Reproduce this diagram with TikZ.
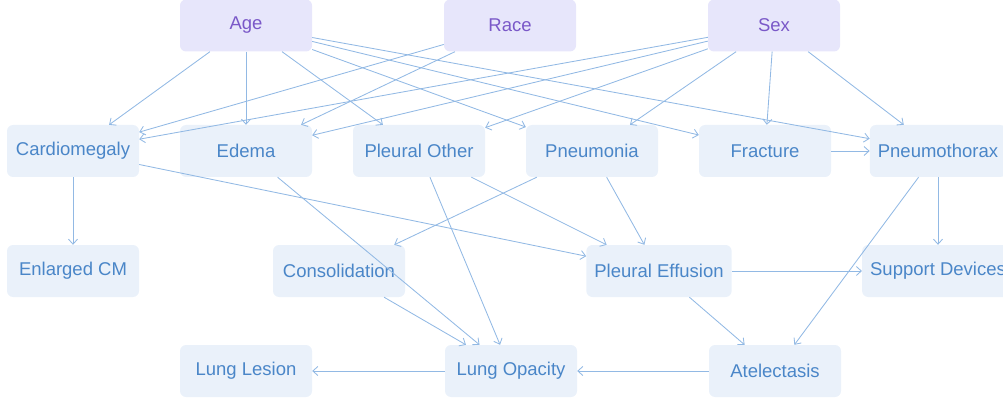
\documentclass[tikz,border=0pt]{standalone}
\usepackage{fontspec}
\setmainfont{Liberation Sans}
\usepackage{xcolor}
\usepackage{tikz}
\usetikzlibrary{arrows.meta}

\definecolor{demofill}{RGB}{231,230,251}
\definecolor{demotext}{RGB}{122,88,200}
\definecolor{findfill}{RGB}{234,241,250}
\definecolor{findtext}{RGB}{74,134,200}
\definecolor{linkcol}{RGB}{146,185,228}

\tikzset{
  box/.style={rectangle, rounded corners=6pt, minimum width=132pt, minimum height=52pt,
    inner xsep=8pt, font=\fontsize{18.5}{20}\selectfont},
  demo/.style={box, fill=demofill, text=demotext},
  finding/.style={box, fill=findfill, text=findtext},
  link/.style={-{Straight Barb[length=5pt,width=9pt]}, draw=linkcol, line width=0.85pt}
}

\begin{document}
\begin{tikzpicture}[x=1pt, y=-1pt]
  \useasboundingbox (0,0) rectangle (1003,398);

  % Variables demográficas
  \node[demo] (age)  at (246,25.5) {Age};
  \node[demo] (race) at (510,25.5) {Race};
  \node[demo] (sex)  at (774,25.5) {Sex};

  % Hallazgos, fila 2
  \node[finding] (cardio) at (73,151)  {Cardiomegaly};
  \node[finding] (edema)  at (246,151) {Edema};
  \node[finding] (plother) at (419,151) {Pleural Other};
  \node[finding] (pneumonia) at (592,151) {Pneumonia};
  \node[finding] (fracture) at (765,151) {Fracture};
  \node[finding] (pneumothorax) at (938,151) {Pneumothorax};

  % Hallazgos, fila 3
  \node[finding] (enlarged) at (73,271)  {Enlarged CM};
  \node[finding] (consol)   at (339,271) {Consolidation};
  \node[finding] (pleffusion) at (659,271) {Pleural Effusion};
  \node[finding] (support)  at (938,271) {Support Devices};

  % Hallazgos, fila 4
  \node[finding] (lesion)  at (246,371) {Lung Lesion};
  \node[finding] (opacity) at (511,371) {Lung Opacity};
  \node[finding] (atel)    at (775,371) {Atelectasis};

  % Aristas desde Age, Race y Sex
  \foreach \t in {cardio, edema, plother, pneumonia, fracture, pneumothorax}
    \draw[link] (age) -- (\t);
  \foreach \t in {cardio, edema}
    \draw[link] (race) -- (\t);
  \foreach \t in {cardio, edema, plother, pneumonia, fracture, pneumothorax}
    \draw[link] (sex) -- (\t);

  % Aristas entre hallazgos
  \draw[link] (cardio) -- (enlarged);
  \draw[link] (cardio) -- (pleffusion);
  \draw[link] (edema) -- (opacity);
  \draw[link] (plother) -- (opacity);
  \draw[link] (plother) -- (pleffusion);
  \draw[link] (pneumonia) -- (consol);
  \draw[link] (pneumonia) -- (pleffusion);
  \draw[link] (fracture) -- (pneumothorax);
  \draw[link] (pneumothorax) -- (support);
  \draw[link] (pneumothorax) -- (atel);
  \draw[link] (consol) -- (opacity);
  \draw[link] (pleffusion) -- (support);
  \draw[link] (pleffusion) -- (atel);
  \draw[link] (atel) -- (opacity);
  \draw[link] (opacity) -- (lesion);
\end{tikzpicture}
\end{document}
